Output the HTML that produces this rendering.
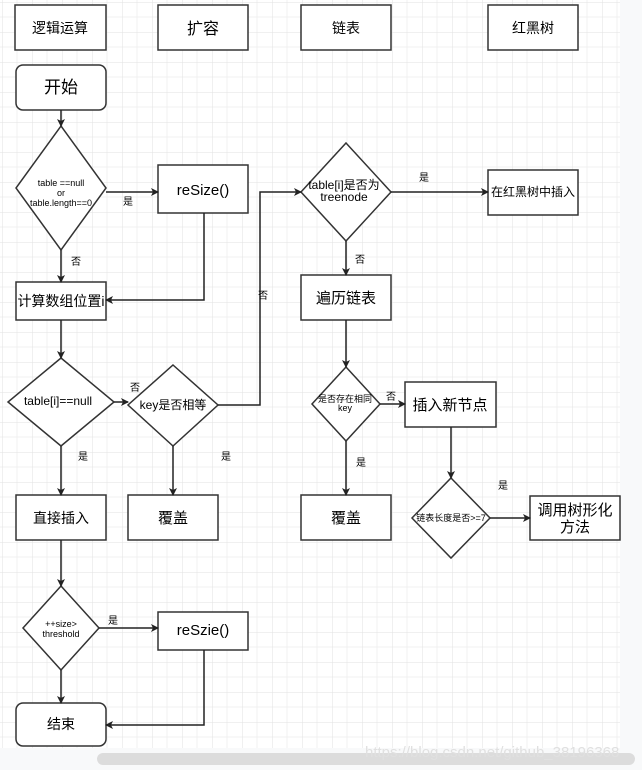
<!DOCTYPE html>
<html><head><meta charset="utf-8"><style>
html,body{margin:0;padding:0;background:#fff;}
svg{display:block;}
text{font-family:"Liberation Sans","Noto Sans CJK SC",sans-serif;fill:#000;}
</style></head><body>
<svg width="642" height="770" viewBox="0 0 642 770" xmlns="http://www.w3.org/2000/svg">
<defs>
<pattern id="g" x="2" y="2" width="30" height="30" patternUnits="userSpaceOnUse">
<path d="M15 0V30M0 15H30" stroke="#f0f0f0" stroke-width="1" fill="none"/>
<path d="M0 0V30M0 0H30" stroke="#e2e2e2" stroke-width="1" fill="none"/>
</pattern>
<marker id="a" markerWidth="8" markerHeight="8" refX="7" refY="4" orient="auto" markerUnits="userSpaceOnUse">
<path d="M0,0 L8,4 L0,8 L2,4 z" fill="#222"/>
</marker>
</defs>
<rect x="0" y="0" width="620" height="748" fill="url(#g)"/>
<rect x="620" y="0" width="22" height="770" fill="#f8f9fa"/>
<rect x="0" y="748" width="642" height="22" fill="#f8f9fa"/>
<rect x="97" y="753" width="538" height="12" rx="6" fill="#dcdcdc"/>
<g fill="#fff" stroke="#333" stroke-width="1.5">
<rect x="15" y="5" width="91" height="45"/>
<rect x="158" y="5" width="90" height="45"/>
<rect x="301" y="5" width="90" height="45"/>
<rect x="488" y="5" width="90" height="45"/>
<rect x="16" y="65" width="90" height="45" rx="7"/>
<polygon points="61,126 106,188 61,250 16,188"/>
<rect x="158" y="165" width="90" height="48"/>
<rect x="16" y="282" width="90" height="38"/>
<polygon points="61,358 114,402 61,446 8,402"/>
<polygon points="173,365 218,405 173,446 128,405"/>
<polygon points="346,143 391,192 346,241 301,192"/>
<rect x="488" y="170" width="90" height="45"/>
<rect x="301" y="275" width="90" height="45"/>
<polygon points="346,367 380,404 346,441 312,404"/>
<rect x="405" y="382" width="91" height="45"/>
<polygon points="451,478 490,518 451,558 412,518"/>
<rect x="530" y="496" width="90" height="44"/>
<rect x="128" y="495" width="90" height="45"/>
<rect x="301" y="495" width="90" height="45"/>
<rect x="16" y="495" width="90" height="45"/>
<polygon points="61,586 99,628 61,670 23,628"/>
<rect x="158" y="612" width="90" height="38"/>
<rect x="16" y="703" width="90" height="43" rx="7"/>
</g>
<g fill="none" stroke="#222" stroke-width="1.5" marker-end="url(#a)">
<path d="M61 110V126"/>
<path d="M106 192H158"/>
<path d="M61 250V282"/>
<path d="M204 213V300H106"/>
<path d="M61 320V358"/>
<path d="M114 402H128"/>
<path d="M218 405H260V192H301"/>
<path d="M391 192H488"/>
<path d="M346 241V275"/>
<path d="M346 320V367"/>
<path d="M380 404H405"/>
<path d="M451 427V478"/>
<path d="M490 518H530"/>
<path d="M346 441V495"/>
<path d="M173 446V495"/>
<path d="M61 446V495"/>
<path d="M61 540V586"/>
<path d="M99 628H158"/>
<path d="M61 670V703"/>
<path d="M204 650V725H106"/>
</g>
<g text-anchor="middle">
<text x="60" y="33" font-size="14">逻辑运算</text>
<text x="203" y="34" font-size="16">扩容</text>
<text x="346" y="33" font-size="14">链表</text>
<text x="533" y="33" font-size="14">红黑树</text>
<text x="61" y="93" font-size="17">开始</text>
<text x="61" y="186" font-size="9">table ==null</text>
<text x="61" y="196" font-size="9">or</text>
<text x="61" y="206" font-size="9">table.length==0</text>
<text x="203" y="195" font-size="15">reSize()</text>
<text x="61" y="306" font-size="14">计算数组位置i</text>
<text x="58" y="405" font-size="12">table[i]==null</text>
<text x="173" y="409" font-size="12">key是否相等</text>
<text x="344" y="189" font-size="12">table[i]是否为</text>
<text x="344" y="201" font-size="12">treenode</text>
<text x="533" y="196" font-size="12">在红黑树中插入</text>
<text x="346" y="303" font-size="15">遍历链表</text>
<text x="345" y="402" font-size="9">是否存在相同</text>
<text x="345" y="411" font-size="9">key</text>
<text x="450" y="410" font-size="15">插入新节点</text>
<text x="451" y="521" font-size="9">链表长度是否&gt;=7</text>
<text x="575" y="515" font-size="15">调用树形化</text>
<text x="575" y="532" font-size="15">方法</text>
<text x="173" y="523" font-size="15">覆盖</text>
<text x="346" y="523" font-size="15">覆盖</text>
<text x="61" y="523" font-size="14">直接插入</text>
<text x="61" y="627" font-size="9">++size&gt;</text>
<text x="61" y="637" font-size="9">threshold</text>
<text x="203" y="635" font-size="15">reSzie()</text>
<text x="61" y="729" font-size="14">结束</text>
</g>
<g font-size="10">
<text x="123" y="205">是</text>
<text x="71" y="265">否</text>
<text x="130" y="391">否</text>
<text x="78" y="460">是</text>
<text x="221" y="460">是</text>
<text x="258" y="299">否</text>
<text x="419" y="181">是</text>
<text x="355" y="263">否</text>
<text x="386" y="400">否</text>
<text x="356" y="466">是</text>
<text x="498" y="489">是</text>
<text x="108" y="624">是</text>
</g>
<text x="365" y="757" font-size="15" fill="#e6e6e6" style="fill:#e0e0e0">https://blog.csdn.net/github_38196368</text>
</svg>
</body></html>
